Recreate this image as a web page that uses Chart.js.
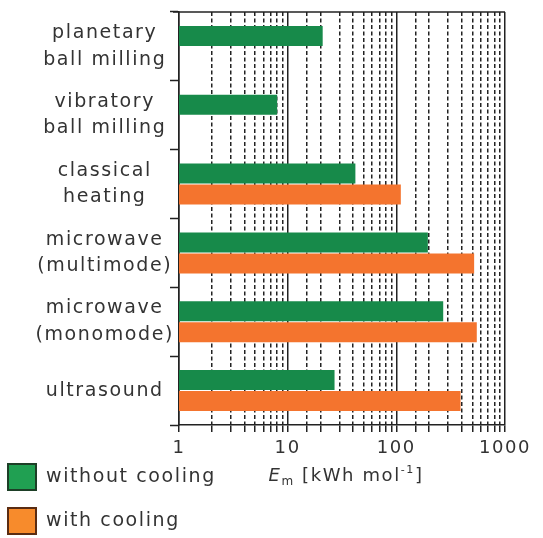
<!DOCTYPE html>
<html>
<head>
<meta charset="utf-8">
<script src="https://cdn.jsdelivr.net/npm/chart.js@4/dist/chart.umd.min.js"></script>
<style>
  html, body { margin: 0; padding: 0; background: #fff; }
</style>
</head>
<body>
<canvas id="barChart" width="543" height="538"></canvas>
<script>
// categorias (dos lineas por etiqueta)
const methods = [
  ['planetary', 'ball milling'],
  ['vibratory', 'ball milling'],
  ['classical', 'heating'],
  ['microwave', '(multimode)'],
  ['microwave', '(monomode)'],
  ['ultrasound']
];
// Em en kWh/mol
const withoutCooling = [21, 8, 42, 195, 270, 27];
const withCooling = [null, null, 110, 520, 550, 390];
const seriesNames = ['without cooling', 'with cooling'];
const xTickLabels = ['1', '10', '100', '1000'];

const green = '#178a4a';
const orange = '#f4742e';
const legendFill = ['#20a052', '#f78b2c'];
const legendEdge = ['#1d3f27', '#5a2c12'];
const ink = '#333333';

function isMajor(v) {
  const l = Math.log10(v);
  return Math.abs(l - Math.round(l)) < 1e-6;
}

// letras mas anchas, como en la figura
const spacingPlugin = {
  id: 'spacing',
  beforeDraw(chart) {
    chart.ctx.letterSpacing = '1.6px';
  }
};

// marco superior, titulo del eje x y leyenda
const extrasPlugin = {
  id: 'extras',
  afterDraw(chart) {
    const ctx = chart.ctx;
    const area = chart.chartArea;
    ctx.save();
    ctx.strokeStyle = '#222';
    ctx.lineWidth = 1.5;
    ctx.beginPath();
    ctx.moveTo(area.left - 6, area.top);
    ctx.lineTo(area.right, area.top);
    ctx.stroke();

    // titulo: E_m [kWh mol^-1]
    ctx.fillStyle = ink;
    ctx.textBaseline = 'alphabetic';
    ctx.textAlign = 'left';
    const parts = [
      { t: 'E', f: 'italic 18px "DejaVu Sans"', dy: 0 },
      { t: 'm', f: '12px "DejaVu Sans"', dy: 4 },
      { t: ' [kWh mol', f: '18px "DejaVu Sans"', dy: 0 },
      { t: '-1', f: '11px "DejaVu Sans"', dy: -8 },
      { t: ']', f: '18px "DejaVu Sans"', dy: 0 }
    ];
    let total = 0;
    parts.forEach(p => { ctx.font = p.f; p.w = ctx.measureText(p.t).width; total += p.w; });
    let x = (area.left + area.right) / 2 - total / 2 + 4;
    const base = area.bottom + 56;
    parts.forEach(p => { ctx.font = p.f; ctx.fillText(p.t, x, base + p.dy); x += p.w; });

    // leyenda
    ctx.font = '19px "DejaVu Sans"';
    ctx.textBaseline = 'middle';
    chart.data.datasets.forEach((ds, i) => {
      const top = 464 + i * 44;
      ctx.fillStyle = legendFill[i];
      ctx.fillRect(8, top, 28, 26);
      ctx.strokeStyle = legendEdge[i];
      ctx.lineWidth = 2;
      ctx.strokeRect(8, top, 28, 26);
      ctx.fillStyle = ink;
      ctx.fillText(ds.label, 46, top + 13);
    });
    ctx.restore();
  }
};

const ctx = document.getElementById('barChart').getContext('2d');
Chart.defaults.font.family = '"DejaVu Sans", sans-serif';
Chart.defaults.color = ink;

new Chart(ctx, {
  type: 'bar',
  data: {
    labels: methods,
    datasets: [
      { label: seriesNames[0], data: withoutCooling, backgroundColor: green },
      { label: seriesNames[1], data: withCooling, backgroundColor: orange }
    ]
  },
  options: {
    indexAxis: 'y',
    responsive: false,
    animation: false,
    categoryPercentage: 0.61,
    barPercentage: 0.95,
    layout: { padding: { left: 0, top: 12, right: 38, bottom: 0 } },
    scales: {
      x: {
        type: 'logarithmic',
        min: 1,
        max: 1000,
        afterFit(scale) { scale.height = 113; },
        border: {
          color: '#222',
          width: 1.5,
          dash: c => (c.tick && !isMajor(c.tick.value)) ? [4, 2.5] : []
        },
        grid: {
          color: '#222',
          lineWidth: c => (c.tick && isMajor(c.tick.value)) ? 1.5 : 1.5,
          tickLength: 7,
          tickColor: '#222'
        },
        ticks: {
          autoSkip: false,
          maxRotation: 0,
          padding: 6,
          font: { size: 18 },
          color: ink,
          callback(value) {
            const s = String(Math.round(value));
            return xTickLabels.includes(s) && isMajor(value) ? s : '';
          }
        }
      },
      y: {
        afterFit(scale) {
          scale.width = 179;
          scale.paddingTop = 0;
          scale.paddingBottom = 0;
        },
        border: { color: '#222', width: 1.5 },
        grid: {
          offset: true,
          drawOnChartArea: false,
          tickLength: 9,
          tickColor: '#222',
          tickWidth: 1.5
        },
        ticks: {
          crossAlign: 'center',
          padding: 4,
          font: { size: 19, lineHeight: 1.4 },
          color: ink
        }
      }
    },
    plugins: {
      legend: { display: false },
      tooltip: { enabled: false }
    }
  },
  plugins: [spacingPlugin, extrasPlugin]
});
</script>
</body>
</html>
